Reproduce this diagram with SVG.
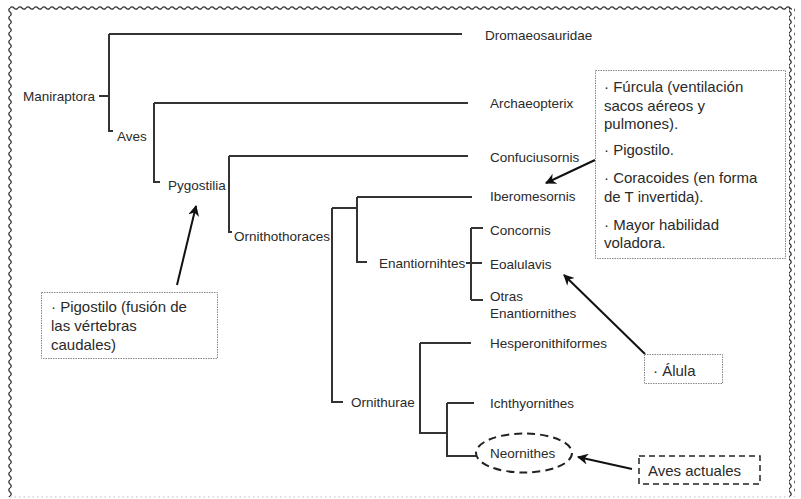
<svg xmlns="http://www.w3.org/2000/svg" width="801" height="499" viewBox="0 0 801 499">
<style>
text{font-family:"Liberation Sans",Arial,sans-serif;fill:#2a2a2a}
.t{font-size:13.5px}
.b{font-size:15px}
.ln{fill:none;stroke:#333;stroke-width:2}
.dot{fill:none;stroke:#888;stroke-width:1;stroke-dasharray:1.5 1}
.arr{fill:none;stroke:#111;stroke-width:2;marker-end:url(#ah)}
</style>
<defs>
<marker id="ah" viewBox="0 0 10 10" refX="9" refY="5" markerWidth="5.5" markerHeight="5.5" orient="auto" markerUnits="strokeWidth">
<path d="M0,0 L10,5 L0,10 L3,5 z" fill="#111"/>
</marker>
<pattern id="wh" x="10" y="5" width="8" height="6" patternUnits="userSpaceOnUse">
<path d="M0,3 Q2,0.6 4,3 T8,3" fill="none" stroke="#333" stroke-width="1.3"/>
</pattern>
<pattern id="wv" x="7" y="8" width="6" height="8" patternUnits="userSpaceOnUse">
<path d="M3,0 Q0.6,2 3,4 T3,8" fill="none" stroke="#333" stroke-width="1.3"/>
</pattern>
</defs>
<rect width="801" height="499" fill="#fff"/>
<g id="frame">
<rect x="10" y="5" width="782" height="6" fill="url(#wh)"/>
<rect x="7" y="8" width="6" height="489" fill="url(#wv)"/>
<rect x="789" y="8" width="6" height="489" fill="url(#wv)"/>
<path d="M10,497 H792" stroke="#bbb" stroke-width="1" stroke-dasharray="1.5 3"/>
</g>
<g id="connectors">
<path class="ln" d="M99,96 H109 M109,34 V131 H113 M109,34 H462"/>
<path class="ln" d="M154,103 V182 H160 M154,103 H468"/>
<path class="ln" d="M229,156 V232 H232 M229,156 H468"/>
<path class="ln" d="M332,208 V402 H343 M332,208 H357 M357,197 V262 H367 M357,197 H472"/>
<path class="ln" d="M466,263 H482 M471,228 V300 M471,228 H483 M471,300 H483"/>
<path class="ln" d="M420,343 V433 H447 M420,343 H471 M447,403 V456 H476 M447,403 H474"/>
<path class="arr" d="M177,285 L196,206"/>
<path class="arr" d="M595,160 L546,183"/>
<path class="arr" d="M645,354 L564,275"/>
<path class="arr" d="M632,469 L578,457"/>
</g>
<g id="n-maniraptora"><text class="t" x="23" y="101">Maniraptora</text></g>
<g id="n-aves"><text class="t" x="117" y="141">Aves</text></g>
<g id="n-pygostilia"><text class="t" x="168" y="190">Pygostilia</text></g>
<g id="n-ornithothoraces"><text class="t" x="234" y="241">Ornithothoraces</text></g>
<g id="n-enantiornihtes"><text class="t" x="379" y="268">Enantiornihtes</text></g>
<g id="n-ornithurae"><text class="t" x="351" y="407">Ornithurae</text></g>
<g id="n-dromaeosauridae"><text class="t" x="485" y="40">Dromaeosauridae</text></g>
<g id="n-archaeopterix"><text class="t" x="490" y="108">Archaeopterix</text></g>
<g id="n-confuciusornis"><text class="t" x="490" y="162">Confuciusornis</text></g>
<g id="n-iberomesornis"><text class="t" x="490" y="201">Iberomesornis</text></g>
<g id="n-concornis"><text class="t" x="490" y="235">Concornis</text></g>
<g id="n-eoalulavis"><text class="t" x="490" y="269">Eoalulavis</text></g>
<g id="n-otras"><text class="t" x="490" y="301">Otras</text><text class="t" x="490" y="318">Enantiornithes</text></g>
<g id="n-hesperonithiformes"><text class="t" x="490" y="348">Hesperonithiformes</text></g>
<g id="n-ichthyornithes"><text class="t" x="490" y="408">Ichthyornithes</text></g>
<g id="n-neornithes">
<ellipse cx="524" cy="453" rx="48" ry="19.5" fill="none" stroke="#222" stroke-width="2" stroke-dasharray="8 5"/>
<text class="t" x="490" y="458">Neornithes</text>
</g>
<g id="box-caracteres">
<rect class="dot" x="595.5" y="70.5" width="190" height="188"/>
<text class="b" x="604" y="92">· Fúrcula (ventilación</text>
<text class="b" x="604" y="111">sacos aéreos y</text>
<text class="b" x="604" y="129">pulmones).</text>
<text class="b" x="604" y="155">· Pigostilo.</text>
<text class="b" x="604" y="183">· Coracoides (en forma</text>
<text class="b" x="604" y="202">de T invertida).</text>
<text class="b" x="604" y="230">· Mayor habilidad</text>
<text class="b" x="604" y="248">voladora.</text>
</g>
<g id="box-pigostilo">
<rect class="dot" x="41.5" y="292.5" width="176" height="66"/>
<text class="b" x="51" y="312">· Pigostilo (fusión de</text>
<text class="b" x="51" y="331">las vértebras</text>
<text class="b" x="51" y="350">caudales)</text>
</g>
<g id="box-alula">
<rect class="dot" x="644.5" y="354.5" width="78" height="29"/>
<text class="b" x="653" y="376">· Álula</text>
</g>
<g id="box-aves-actuales">
<rect x="639" y="456" width="121" height="28" fill="none" stroke="#222" stroke-width="1.5" stroke-dasharray="6 4"/>
<text class="b" x="648" y="476">Aves actuales</text>
</g>
</svg>
